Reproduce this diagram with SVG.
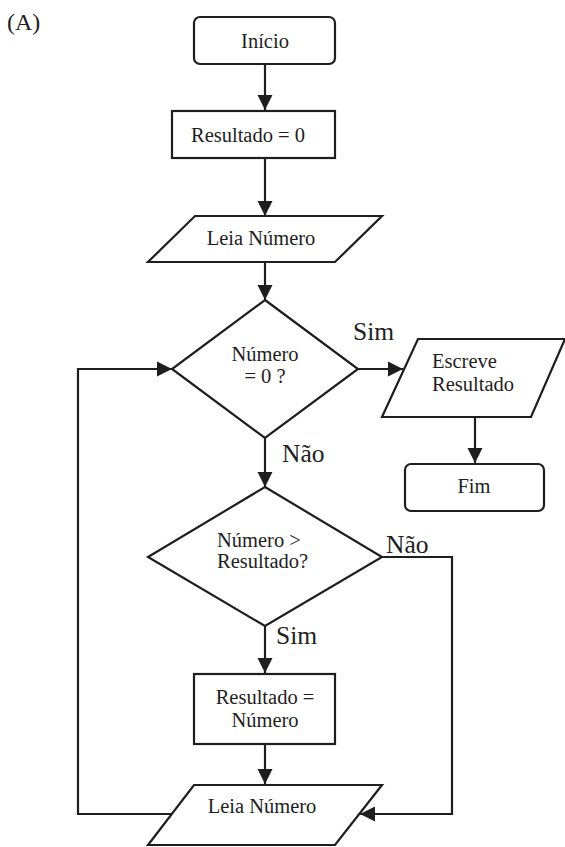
<svg xmlns="http://www.w3.org/2000/svg" width="565" height="847" viewBox="0 0 565 847">
<style>
.s{fill:#fff;stroke:#1e1e1e;stroke-width:2.2;stroke-linejoin:miter}
.c{fill:none;stroke:#1e1e1e;stroke-width:2.2}
.t{font-family:"Liberation Serif","Times New Roman",serif;font-size:20.5px;fill:#1e1e1e;text-anchor:middle}
.l{font-family:"Liberation Serif","Times New Roman",serif;font-size:25.5px;fill:#1e1e1e}
</style>
<defs>
<marker id="ah" markerUnits="userSpaceOnUse" markerWidth="16" markerHeight="16" viewBox="0 0 16 16" refX="15" refY="8" orient="auto">
<path d="M0,0.5 L15,8 L0,15.5 Z" fill="#1e1e1e"/>
</marker>
</defs>
<rect width="565" height="847" fill="#fff"/>
<text x="7" y="30" class="l" style="font-size:24px">(A)</text>
<g id="connectors">
<line class="c" x1="265" y1="64" x2="265" y2="110" marker-end="url(#ah)"/>
<line class="c" x1="265" y1="158" x2="265" y2="216" marker-end="url(#ah)"/>
<line class="c" x1="265" y1="262" x2="265" y2="300" marker-end="url(#ah)"/>
<line class="c" x1="358" y1="369" x2="403" y2="369" marker-end="url(#ah)"/>
<line class="c" x1="475" y1="417" x2="475" y2="463" marker-end="url(#ah)"/>
<line class="c" x1="265" y1="438" x2="265" y2="487" marker-end="url(#ah)"/>
<polyline class="c" points="382,557 452,557 452,814 360,814" marker-end="url(#ah)"/>
<line class="c" x1="265" y1="626" x2="265" y2="673" marker-end="url(#ah)"/>
<line class="c" x1="265" y1="744" x2="265" y2="784" marker-end="url(#ah)"/>
<polyline class="c" points="172,814 78,814 78,369 172,369" marker-end="url(#ah)"/>
<text x="353" y="340" class="l">Sim</text>
<text x="282" y="462" class="l">Não</text>
<text x="386" y="553" class="l">Não</text>
<text x="276" y="644" class="l">Sim</text>
</g>
<g id="inicio">
<rect class="s" x="194" y="17" width="141" height="47" rx="6"/>
<text x="265" y="48" class="t">Início</text>
</g>
<g id="resultado0">
<rect class="s" x="172" y="111" width="163" height="47"/>
<text x="248" y="142" class="t">Resultado = 0</text>
</g>
<g id="leia1">
<polygon class="s" points="195,216 382,216 335,262 148,262"/>
<text x="261" y="245" class="t">Leia Número</text>
</g>
<g id="dec1">
<polygon class="s" points="265,300 358,369 265,438 172,369"/>
<text x="265" y="361" class="t">Número</text>
<text x="265" y="383" class="t">= 0 ?</text>
</g>
<g id="escreve">
<polygon class="s" points="418,339 565,339 531,417 382,417"/>
<text x="432" y="368" class="t" style="text-anchor:start">Escreve</text>
<text x="432" y="391" class="t" style="text-anchor:start">Resultado</text>
</g>
<g id="fim">
<rect class="s" x="405" y="464" width="139" height="47" rx="6"/>
<text x="474" y="493" class="t">Fim</text>
</g>
<g id="dec2">
<polygon class="s" points="265,487 382,557 265,626 148,557"/>
<text x="217" y="547" class="t" style="text-anchor:start">Número &gt;</text>
<text x="217" y="568" class="t" style="text-anchor:start">Resultado?</text>
</g>
<g id="resultadonum">
<rect class="s" x="194" y="674" width="141" height="70"/>
<text x="265" y="704" class="t">Resultado =</text>
<text x="265" y="727" class="t">Número</text>
</g>
<g id="leia2">
<polygon class="s" points="194,785 382,785 335,845 148,845"/>
<text x="262" y="813" class="t">Leia Número</text>
</g>
</svg>
